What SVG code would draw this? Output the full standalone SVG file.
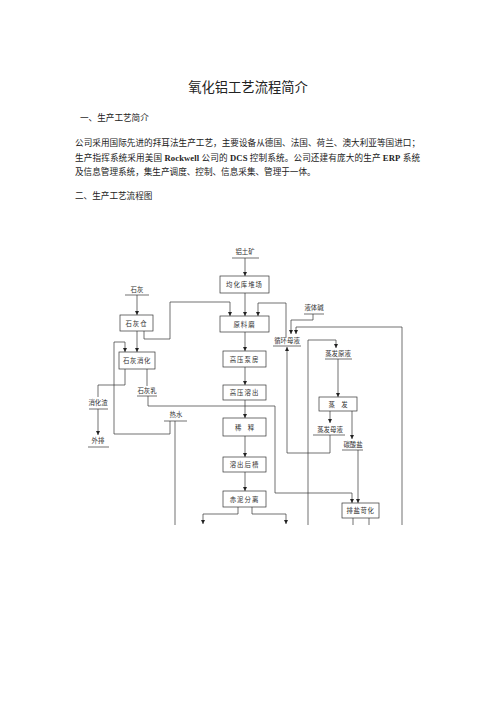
<svg xmlns="http://www.w3.org/2000/svg" width="496" height="702" viewBox="0 0 496 702">
<style>
.t{font-family:"Liberation Serif","Noto Sans CJK SC",serif;fill:#222}
.h{font-size:13.3px}
.p{font-size:8.6px}
.l{font-family:"Liberation Serif","Noto Sans CJK SC",sans-serif;font-size:6.4px;fill:#333;text-anchor:middle}
.b{fill:#fff;stroke:#333;stroke-width:0.7}
.u{stroke:#333;stroke-width:0.7}
.c path{fill:none;stroke:#333;stroke-width:0.7}
.a{marker-end:url(#ar)}
</style>
<defs>
<marker id="ar" viewBox="0 0 6 6" refX="6" refY="3" markerWidth="4" markerHeight="4" markerUnits="userSpaceOnUse" orient="auto">
<path d="M0,0 L6,3 L0,6 z" fill="#222"/>
</marker>
</defs>
<rect width="496" height="702" fill="#fff"/>
<text class="t h" x="248" y="92" text-anchor="middle">氧化铝工艺流程简介</text>
<text class="t p" x="80" y="120.5">一、生产工艺简介</text>
<text class="t p" x="75" y="146" textLength="345" lengthAdjust="spacing">公司采用国际先进的拜耳法生产工艺，主要设备从德国、法国、荷兰、澳大利亚等国进口；</text>
<text class="t p" x="75" y="160.5" textLength="345" lengthAdjust="spacing">生产指挥系统采用美国 <tspan font-weight="bold">Rockwell</tspan> 公司的 <tspan font-weight="bold">DCS</tspan> 控制系统。公司还建有庞大的生产 <tspan font-weight="bold">ERP</tspan> 系统</text>
<text class="t p" x="75" y="174.5">及信息管理系统，集生产调度、控制、信息采集、管理于一体。</text>
<text class="t p" x="75" y="199">二、生产工艺流程图</text>

<g class="c">
<path class="a" d="M245,258 V276"/>
<path class="a" d="M245,293 V316"/>
<path class="a" d="M245,332 V351"/>
<path class="a" d="M245,367 V385"/>
<path class="a" d="M245,400 V418"/>
<path class="a" d="M245,436 V457"/>
<path class="a" d="M245,472 V491"/>
<path class="a" d="M238,507 V514 H203 V524"/>
<path class="a" d="M252,507 V514 H286 V524"/>
<path class="a" d="M137,295 V315"/>
<path class="a" d="M137,331 V352"/>
<path class="a" d="M144,331 V339 H170 V302 H230 V316"/>
<path class="a" d="M286,337 V303 H258 V316"/>
<path class="a" d="M313,314 V320 H291 V334"/>
<path class="a" d="M402,525 V327 H296 V334"/>
<path class="a" d="M170,421 V434 H114 V342 H125 V352"/>
<path d="M175,421 V525"/>
<path d="M125,369 V385 H98 V397"/>
<path class="a" d="M98,409 V435"/>
<path d="M147,369 V386"/>
<path class="a" d="M148,396 V406 H275 V493 H352 V503"/>
<path class="a" d="M308,525 V340 H336 V348"/>
<path class="a" d="M338,359 V397"/>
<path class="a" d="M330,411 V423"/>
<path class="a" d="M330,435 V453 H287 V347"/>
<path class="a" d="M352,411 V439"/>
<path class="a" d="M358,450 V503"/>
<path d="M353,518 V525"/>
<path d="M369,518 V525"/>
</g>

<g id="n_lutukuang"><text class="l" x="245" y="254">铝土矿</text><line class="u" x1="232" y1="258" x2="259" y2="258"/></g>
<g id="n_junhuaku"><rect class="b" x="220" y="276" width="49" height="17"/><text class="l" x="244.5" y="287" letter-spacing="1">均化库堆场</text></g>
<g id="n_yuanliaomo"><rect class="b" x="220" y="316" width="49" height="16"/><text class="l" x="244.5" y="326.5" letter-spacing="1">原料磨</text></g>
<g id="n_gaoyabengfang"><rect class="b" x="223" y="351" width="43" height="16"/><text class="l" x="244.5" y="361.5" letter-spacing="1">高压泵房</text></g>
<g id="n_gaoyarongchu"><rect class="b" x="223" y="385" width="43" height="15"/><text class="l" x="244.5" y="395" letter-spacing="1">高压溶出</text></g>
<g id="n_xishi"><rect class="b" x="223" y="418" width="43" height="18"/><text class="l" x="244.5" y="429.5" xml:space="preserve">稀    释</text></g>
<g id="n_rongchuhoucao"><rect class="b" x="223" y="457" width="43" height="15"/><text class="l" x="244.5" y="467" letter-spacing="1">溶出后槽</text></g>
<g id="n_chinifenli"><rect class="b" x="223" y="491" width="43" height="16"/><text class="l" x="244.5" y="501.5" letter-spacing="1">赤泥分离</text></g>
<g id="n_shihui"><text class="l" x="137" y="292">石灰</text><line class="u" x1="125" y1="295" x2="149" y2="295"/></g>
<g id="n_shihuicang"><rect class="b" x="120" y="315" width="33" height="16"/><text class="l" x="136.5" y="325.5" letter-spacing="1">石灰仓</text></g>
<g id="n_shihuixiaohua"><rect class="b" x="119" y="352" width="36" height="17"/><text class="l" x="137" y="363" letter-spacing="0.6">石灰消化</text></g>
<g id="n_xiaohuazha"><text class="l" x="98" y="405">消化渣</text><line class="u" x1="89" y1="409" x2="108" y2="409"/></g>
<g id="n_waipai"><text class="l" x="98" y="443">外排</text><line class="u" x1="88" y1="447" x2="109" y2="447"/></g>
<g id="n_shihuiru"><text class="l" x="147" y="393">石灰乳</text><line class="u" x1="137" y1="396" x2="157" y2="396"/></g>
<g id="n_reshui"><text class="l" x="176" y="417">热水</text><line class="u" x1="164" y1="421" x2="187" y2="421"/></g>
<g id="n_yetijian"><text class="l" x="314" y="310">液体碱</text><line class="u" x1="304" y1="314" x2="324" y2="314"/></g>
<g id="n_xunhuanmuye"><text class="l" x="287" y="343">循环母液</text><line class="u" x1="273" y1="346" x2="301" y2="346"/></g>
<g id="n_zhengfayuanye"><text class="l" x="338" y="356">蒸发原液</text><line class="u" x1="325" y1="359" x2="352" y2="359"/></g>
<g id="n_zhengfa"><rect class="b" x="319" y="397" width="38" height="14"/><text class="l" x="338" y="406.5" xml:space="preserve">蒸    发</text></g>
<g id="n_zhengfamuye"><text class="l" x="330" y="432">蒸发母液</text><line class="u" x1="313" y1="435" x2="345" y2="435"/></g>
<g id="n_tansuanyan"><text class="l" x="353" y="447">碳酸盐</text><line class="u" x1="342" y1="450" x2="363" y2="450"/></g>
<g id="n_paiyankehua"><rect class="b" x="342" y="503" width="37" height="15"/><text class="l" x="360.5" y="513" letter-spacing="0.6">排盐苛化</text></g>
</svg>
